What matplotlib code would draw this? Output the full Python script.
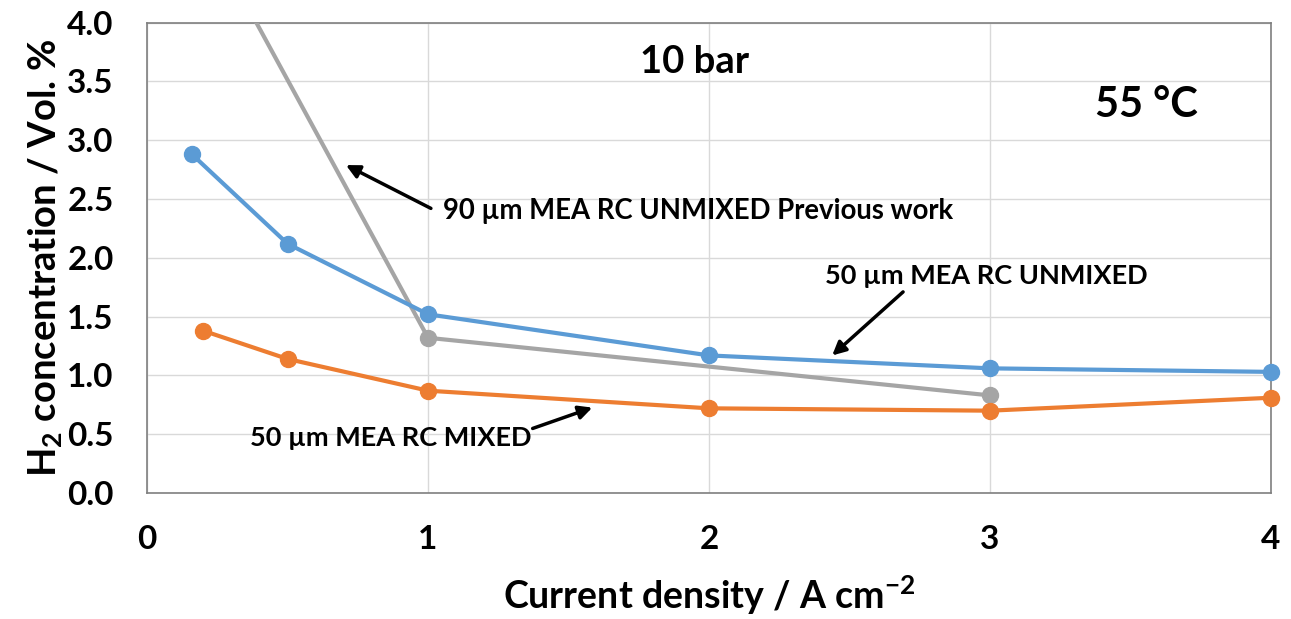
import numpy as np
import matplotlib.pyplot as plt

plt.rcParams['font.family'] = ['Lato', 'DejaVu Sans']
plt.rcParams['font.weight'] = 'bold'
plt.rcParams['axes.labelweight'] = 'bold'
plt.rcParams['mathtext.fontset'] = 'custom'
plt.rcParams['mathtext.rm'] = 'Lato:bold'
plt.rcParams['mathtext.bf'] = 'Lato:bold'
plt.rcParams['mathtext.default'] = 'bf'

# H2 concentration vs current density, 10 bar / 55 C
j_mixed = [0.2, 0.5, 1, 2, 3, 4]
h2_mixed = [1.38, 1.14, 0.87, 0.72, 0.70, 0.81]

j_unmixed = [0.16, 0.5, 1, 2, 3, 4]
h2_unmixed = [2.88, 2.12, 1.52, 1.17, 1.06, 1.03]

j_prev = [0.2, 1, 3]
h2_prev = [4.83, 1.32, 0.83]

c_blue = '#5B9BD5'
c_orange = '#ED7D31'
c_gray = '#A5A5A5'

fig = plt.figure(figsize=(12.91, 6.19), dpi=100)
ax = fig.add_axes([0.1139, 0.2036, 0.8706, 0.7597])

ax.plot(j_prev, h2_prev, '-o', color=c_gray, lw=3, ms=11.5, zorder=3)
ax.plot(j_unmixed, h2_unmixed, '-o', color=c_blue, lw=3, ms=11.5, zorder=4, clip_on=False)
ax.plot(j_mixed, h2_mixed, '-o', color=c_orange, lw=3, ms=11.5, zorder=4, clip_on=False)

ax.set_xlim(0, 4)
ax.set_ylim(0, 4)
ax.set_xticks(np.arange(0, 5, 1))
ax.set_yticks(np.arange(0, 4.01, 0.5))
ax.set_yticklabels([f'{v:.1f}' for v in np.arange(0, 4.01, 0.5)])
ax.tick_params(length=0, labelsize=24)
ax.tick_params(axis='y', pad=24)
ax.tick_params(axis='x', pad=23)
ax.grid(color='#D9D9D9', lw=1)
ax.set_axisbelow(True)
for s in ax.spines.values():
    s.set_color('#7F7F7F')
    s.set_linewidth(1.2)

ax.set_xlabel(r'Current density / A cm$^{-2}$', fontsize=27, labelpad=14)
ax.set_ylabel(r'H$_{2}$ concentration / Vol. %', fontsize=27.5, labelpad=2)

ax.text(1.947, 3.665, '10 bar', fontsize=27.5, ha='center', va='center')
ax.text(3.555, 3.30, '55 °C', fontsize=30, ha='center', va='center')

arrow = dict(arrowstyle='-|>', color='black', lw=2.5, mutation_scale=20)
ax.annotate('', xy=(0.699, 2.80), xytext=(1.019, 2.41), arrowprops=arrow)
ax.text(1.053, 2.40, '90 µm MEA RC UNMIXED Previous work', fontsize=19.8,
        ha='left', va='center')
ax.annotate('', xy=(2.431, 1.154), xytext=(2.698, 1.726), arrowprops=arrow)
ax.text(2.413, 1.845, '50 µm MEA RC UNMIXED', fontsize=19.5, ha='left', va='center')
ax.annotate('', xy=(1.594, 0.734), xytext=(1.363, 0.541), arrowprops=arrow)
ax.text(0.367, 0.468, '50 µm MEA RC MIXED', fontsize=19.5, ha='left', va='center')

fig.savefig('out.png', dpi=100)
